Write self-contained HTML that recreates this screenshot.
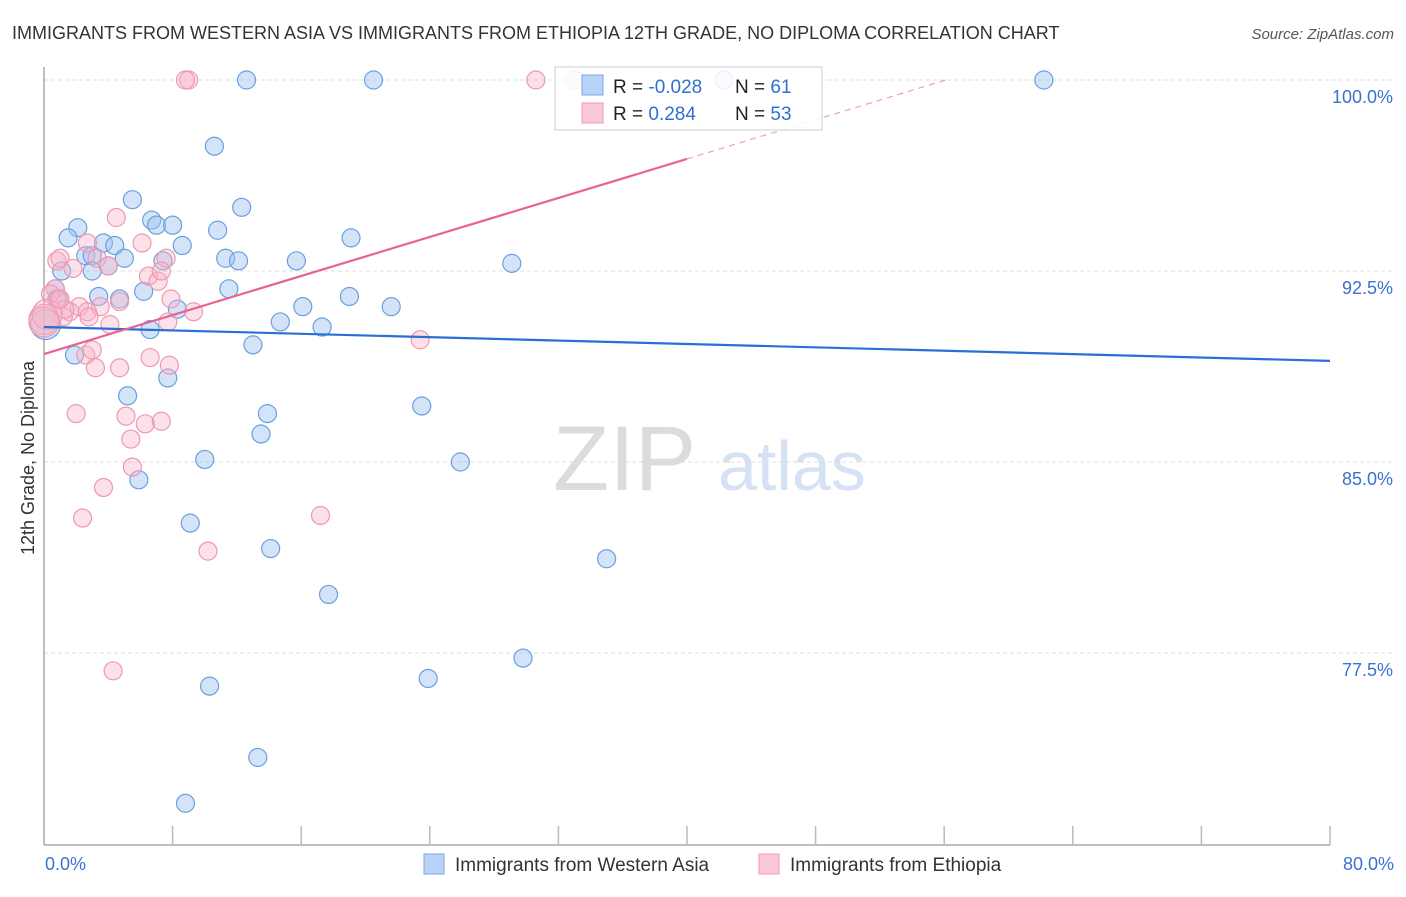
<!DOCTYPE html>
<html><head><meta charset="utf-8">
<style>
body{margin:0;background:#fff;font-family:"Liberation Sans",sans-serif;}
svg text{font-family:"Liberation Sans",sans-serif;}
</style></head>
<body>
<svg id="chart" width="1406" height="892" xmlns="http://www.w3.org/2000/svg">
<text x="12" y="39" font-size="18" fill="#333">IMMIGRANTS FROM WESTERN ASIA VS IMMIGRANTS FROM ETHIOPIA 12TH GRADE, NO DIPLOMA CORRELATION CHART</text>
<text x="1394" y="39" font-size="15" fill="#555" text-anchor="end" font-style="italic">Source: ZipAtlas.com</text>
<text x="553" y="490" font-size="92" fill="#dcdcdc" font-family="Liberation Serif,serif">ZIP</text>
<text x="718" y="490" font-size="70" fill="#d5e2f3">atlas</text>
<text transform="translate(34,458) rotate(-90)" font-size="18" fill="#333" text-anchor="middle">12th Grade, No Diploma</text>
<g id="grid"></g><g id="axes"></g><g id="pts"></g><g id="trends"></g>
<g>
<rect x="555" y="67" width="267" height="63" fill="rgba(255,255,255,0.85)" stroke="#ccc"/>
<rect x="582" y="75" width="21" height="20" fill="#b8d3f5" stroke="#7aaae6"/>
<rect x="582" y="103" width="21" height="20" fill="#fbc8d6" stroke="#f19ab4"/>
<text x="613" y="93" font-size="19" fill="#222">R = <tspan fill="#2f6fd0">-0.028</tspan></text>
<text x="735" y="93" font-size="19" fill="#222">N = <tspan fill="#2f6fd0"> 61</tspan></text>
<text x="613" y="120" font-size="19" fill="#222">R = <tspan fill="#2f6fd0">  0.284</tspan></text>
<text x="735" y="120" font-size="19" fill="#222">N = <tspan fill="#2f6fd0">53</tspan></text>
</g>
<g>
<rect x="424" y="854" width="20" height="20" fill="#b8d3f5" stroke="#7aaae6"/>
<text x="455" y="871" font-size="19" fill="#333">Immigrants from Western Asia</text>
<rect x="759" y="854" width="20" height="20" fill="#fbc8d6" stroke="#f19ab4"/>
<text x="790" y="871" font-size="19" fill="#333">Immigrants from Ethiopia</text>
</g>
</svg>
<script>
const yTicks=[100,92.5,85,77.5];
const yTickLabels=["100.0%","92.5%","85.0%","77.5%"];
const xTickLabels=["0.0%","80.0%"];
const blueX=[12.6,20.5,42.3,62.2,10.6,5.5,12.3,6.7,2.1,7.0,8.0,1.5,3.7,4.4,8.6,19.1,10.8,2.6,3.0,5.0,11.3,12.1,15.7,29.1,4.0,3.0,7.4,1.1,0.7,0.8,3.4,6.2,11.5,4.7,8.3,16.1,19.0,21.6,14.7,17.3,6.6,13.0,1.9,7.7,5.2,23.5,13.9,13.5,10.0,25.9,5.9,9.1,14.1,35.0,17.7,29.8,10.3,23.9,13.3,8.8,0.1];
const blueY=[100,100,100,100,97.4,95.3,95.0,94.5,94.2,94.3,94.3,93.8,93.6,93.5,93.5,93.8,94.1,93.1,93.1,93.0,93.0,92.9,92.9,92.8,92.7,92.5,92.9,92.5,91.8,91.4,91.5,91.7,91.8,91.4,91.0,91.1,91.5,91.1,90.5,90.3,90.2,89.6,89.2,88.3,87.6,87.2,86.9,86.1,85.1,85.0,84.3,82.6,81.6,81.2,79.8,77.3,76.2,76.5,73.4,71.6,90.4];
const pinkX=[9.0,8.8,30.6,33.0,4.5,2.7,6.1,0.8,1.0,3.3,1.8,4.0,6.5,7.1,7.6,7.3,0.7,0.9,2.2,3.5,4.7,7.9,9.3,2.7,1.6,1.2,2.8,4.1,7.7,0.0,23.4,2.6,3.0,6.6,7.8,3.2,4.7,2.0,5.1,6.3,7.3,5.4,5.5,3.7,2.4,17.2,10.2,4.3,0.4,1.3,0.2,1.0,0.0];
const pinkY=[100,100,100,100,94.6,93.6,93.6,92.9,93.0,93.0,92.6,92.7,92.3,92.1,93.0,92.5,91.8,91.4,91.1,91.1,91.3,91.4,90.9,90.9,90.9,90.7,90.7,90.4,90.5,90.6,89.8,89.2,89.4,89.1,88.8,88.7,88.7,86.9,86.8,86.5,86.6,85.9,84.8,84.0,82.8,82.9,81.5,76.8,91.6,91.0,90.8,91.4,90.5];
const blueTrend=[[0,90.30],[80,88.97]];
const pinkTrend=[[0,89.24],[40,96.9],[56.1,100]];
const X=v=>44+v*(1286/80), Y=v=>80+(100-v)*(191/7.5);
const NS="http://www.w3.org/2000/svg";
function mk(p,t,a){const e=document.createElementNS(NS,t);for(const k in a)e.setAttribute(k,a[k]);p.appendChild(e);return e;}
const grid=document.getElementById('grid'),axes=document.getElementById('axes'),pts=document.getElementById('pts'),tr=document.getElementById('trends');
yTicks.forEach((t,i)=>{
 const l=mk(grid,'line',{x1:44,x2:1394,y1:Y(t),y2:Y(t),stroke:'#ddd','stroke-dasharray':'4,3'});
 
 
 const tx=mk(grid,'text',{x:1393,y:Y(t)+23,'font-size':18,fill:'#3a72d0','text-anchor':'end'});
 tx.textContent=yTickLabels[i];
 
 
});
const ya=mk(axes,'line',{x1:44,x2:44,y1:67,y2:845,stroke:'#aaa','stroke-width':1.5});


const xa=mk(axes,'line',{x1:44,x2:1330,y1:845,y2:845,stroke:'#aaa','stroke-width':1.5});


for(let i=1;i<=10;i++){const t=mk(axes,'line',{x1:X(i*8),x2:X(i*8),y1:826,y2:845,stroke:'#bbb','stroke-width':1.5});
 
 }
[[0,'start',45],[80,'end',1394]].forEach((d,i)=>{const t=mk(axes,'text',{x:d[2],y:870,'font-size':18,fill:'#3a72d0','text-anchor':d[1]});t.textContent=xTickLabels[i];
 
 });
function dots(xs,ys,fill,stroke,name){xs.forEach((x,i)=>{const big=(x<0.3&&ys[i]>90&&ys[i]<91);
 const c=mk(pts,'circle',{cx:X(x),cy:Y(ys[i]),r:big?15:9,fill:fill,stroke:stroke,'stroke-width':1.2});
 
 });}
dots(blueX,blueY,'rgba(160,196,240,0.45)','#6a9fe0','western-asia-point');
dots(pinkX,pinkY,'rgba(248,180,200,0.4)','#ef98b2','ethiopia-point');
const bl=mk(tr,'line',{x1:X(blueTrend[0][0]),y1:Y(blueTrend[0][1]),x2:X(blueTrend[1][0]),y2:Y(blueTrend[1][1]),stroke:'#2a6fd4','stroke-width':2.2});


const pl=mk(tr,'line',{x1:X(pinkTrend[0][0]),y1:Y(pinkTrend[0][1]),x2:X(pinkTrend[1][0]),y2:Y(pinkTrend[1][1]),stroke:'#e8638f','stroke-width':2.2});


const pd=mk(tr,'line',{x1:X(pinkTrend[1][0]),y1:Y(pinkTrend[1][1]),x2:X(pinkTrend[2][0]),y2:Y(pinkTrend[2][1]),stroke:'#eca0b8','stroke-width':1.2,'stroke-dasharray':'6,5'});


</script>
</body></html>
